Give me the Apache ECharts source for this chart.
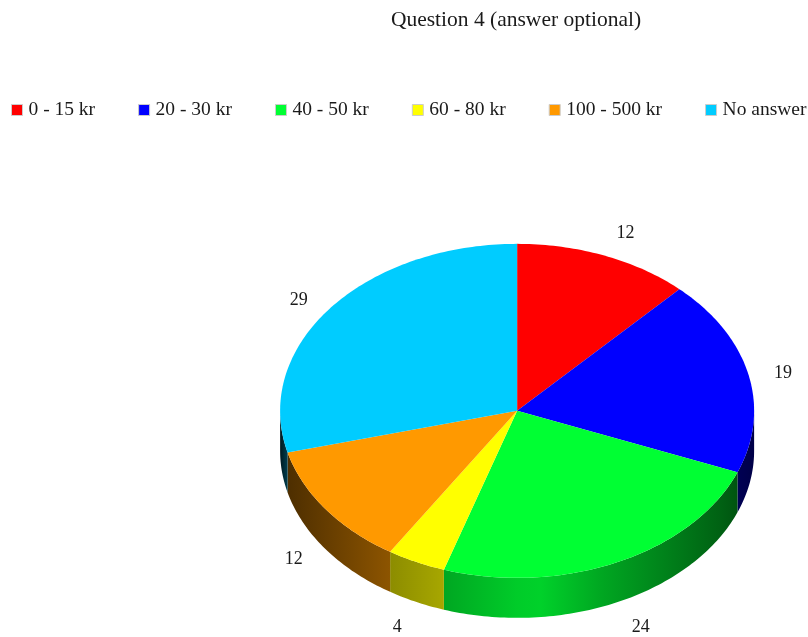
<!DOCTYPE html>
<html><head><meta charset="utf-8">
<style>html,body{margin:0;padding:0;background:#fff}#c{width:808px;height:637px}</style>
<script src="https://cdn.jsdelivr.net/npm/echarts@6/dist/echarts.min.js"></script>
</head><body><div id="c"></div>
<script>
const titleText = 'Question 4 (answer optional)';
const categories = ['0 - 15 kr','20 - 30 kr','40 - 50 kr','60 - 80 kr','100 - 500 kr','No answer'];
const values = [12,19,24,4,12,29];
const colors = ['#ff0000','#0000ff','#00ff33','#ffff00','#ff9900','#00ccff'];
const shadeStops = [[0,0.12],[0.015,0.3],[0.1,0.4],[0.23,0.55],[0.35,0.66],[0.5,0.8],[0.55,0.82],[0.68,0.65],[0.8,0.52],[0.93,0.38],[1,0.28]];

const total = values.reduce((a,b)=>a+b,0);
const DEG = Math.PI/180;
function shade(hex,k){
  const n=parseInt(hex.slice(1),16);
  return `rgb(${Math.round((n>>16&255)*k)},${Math.round((n>>8&255)*k)},${Math.round((n&255)*k)})`;
}
function render(params, api){
  const i = params.seriesIndex, v = api.value(0);
  const W = api.getWidth(), H = api.getHeight();
  const cx = W*0.64, cy = H*0.645, rx = 237, ry = 167, depth = 40;
  let before = 0; for(let k=0;k<i;k++) before += values[k];
  const a0 = before/total*360, a1 = (before+v)/total*360;
  const pt = (a,dy=0)=>[cx+rx*Math.sin(a*DEG), cy-ry*Math.cos(a*DEG)+dy];
  const top=[[cx,cy]];
  const steps=Math.max(8,Math.ceil(a1-a0));
  for(let s=0;s<=steps;s++) top.push(pt(a0+(a1-a0)*s/steps));
  const children=[];
  const s0=Math.max(a0,90), s1=Math.min(a1,270);
  if(s1>s0){
    const upper=[],lower=[];
    const n=Math.max(8,Math.ceil(s1-s0));
    for(let s=0;s<=n;s++){const a=s0+(s1-s0)*s/n;upper.push(pt(a));lower.unshift(pt(a,depth));}
    children.push({type:'polygon',shape:{points:upper.concat(lower)},style:{
      fill:new echarts.graphic.LinearGradient(cx-rx,0,cx+rx,0,
        shadeStops.map(([o,k])=>({offset:o,color:shade(colors[i],k)})),true)}});
  }
  children.push({type:'polygon',shape:{points:top},style:{fill:colors[i]}});
  const mid=(a0+a1)/2, sn=Math.sin(mid*DEG), cs=Math.cos(mid*DEG);
  const p=pt(mid, cs<0?depth:0);
  children.push({type:'text',style:{
    x:p[0]+(sn>0?35*Math.sqrt(sn):-5+33*sn),
    y:p[1]-(cs<0?31:24)*Math.sign(cs)*cs*cs-(cs>0.8?2:0)+(cs>0&&sn<0?1:0),
    text:String(v),fill:'#1a1a1a',font:'18px "Liberation Serif"',align:'center',verticalAlign:'middle'}});
  return {type:'group',children};
}
const chart = echarts.init(document.getElementById('c'),null,{renderer:'canvas'});
chart.setOption({
  animation:false,
  backgroundColor:'#fff',
  title:{text:titleText,left:511,top:4,textAlign:'center',
    textStyle:{fontFamily:'Liberation Serif',fontSize:21.5,fontWeight:'normal',color:'#1a1a1a'}},
  legend:{left:6,top:95,width:1000,itemWidth:11,itemHeight:11,itemGap:43,icon:'rect',
    textStyle:{fontFamily:'Liberation Serif',fontSize:19.5,color:'#1a1a1a',padding:[0,0,0,1]},
    itemStyle:{borderColor:'#cccccc',borderWidth:1},
    data:categories},
  series:categories.map((name,i)=>({
    type:'custom',name,coordinateSystem:'none',renderItem:render,
    itemStyle:{color:colors[i]},
    encode:{value:0},data:[[values[i]]]
  }))
});
</script></body></html>
